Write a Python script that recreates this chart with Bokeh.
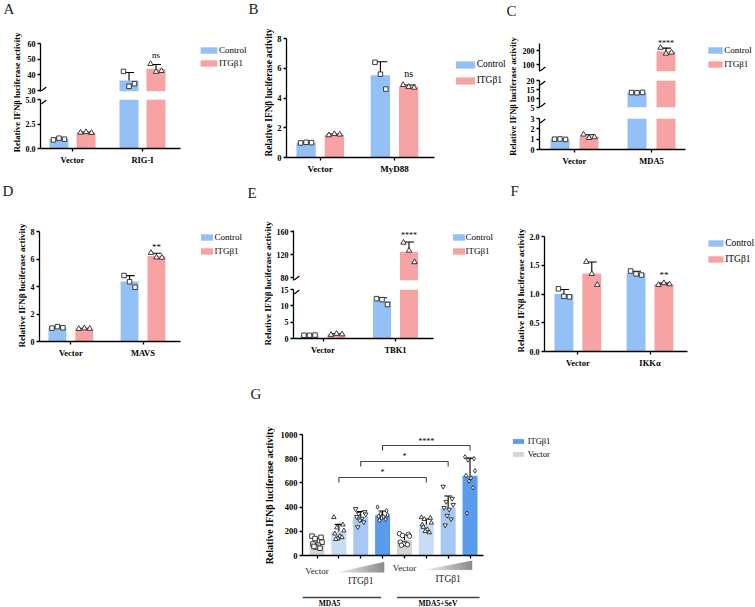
import numpy as np
from math import pi
from bokeh.plotting import figure
from bokeh.models import (ColumnDataSource, Range1d, FixedTicker, Whisker, TeeHead, Legend,
                          LegendItem, Label, NumeralTickFormatter)
from bokeh.layouts import row, column
from bokeh.embed import file_html
from bokeh.resources import INLINE

SERIF = "Liberation Serif"
Y_LABEL = "Relative IFNβ luciferase activity"
GROUPS = ["Control", "ITGβ1"]
CTRL_COLOR = "#93C1F6"
ITG_COLOR = "#F7A3A3"

# ---------------- data ----------------
a_categories = ["Vector", "RIG-I"]
a_control = [[0.88, 1.05, 0.95], [42.2, 32.7, 34.4]]
a_itgb1 = [[1.62, 1.68, 1.60], [47.0, 42.0, 42.5]]
a_sig = "ns"
a_ticks = [[30, 40, 50, 60], [0, 2.5, 5]]

b_categories = ["Vector", "MyD88"]
b_control = [[0.98, 1.02, 1.00], [6.4, 5.6, 4.6]]
b_itgb1 = [[1.50, 1.58, 1.55], [4.88, 4.75, 4.70]]
b_sig = "ns"
b_ticks = [[0, 2, 4, 6, 8]]

c_categories = ["Vector", "MDA5"]
c_control = [[1.00, 1.02, 0.98], [13.3, 13.2, 13.4]]
c_itgb1 = [[1.45, 1.12, 1.20], [220, 178, 186]]
c_sig = "****"
c_ticks = [[100, 200], [5, 10, 15, 20], [0, 1, 2, 3]]

d_categories = ["Vector", "MAVS"]
d_control = [[0.97, 1.08, 1.00], [4.80, 4.35, 3.95]]
d_itgb1 = [[0.92, 0.96, 0.93], [6.45, 6.12, 6.10]]
d_sig = "**"
d_ticks = [[0, 2, 4, 6, 8]]

e_categories = ["Vector", "TBK1"]
e_control = [[1.00, 0.95, 1.05], [12.2, 11.9, 10.4]]
e_itgb1 = [[1.15, 1.45, 1.30], [141, 127, 107]]
e_sig = "****"
e_ticks = [[80, 120, 160], [0, 5, 10, 15]]

f_categories = ["Vector", "IKKα"]
f_control = [[1.09, 0.96, 0.95], [1.40, 1.35, 1.33]]
f_itgb1 = [[1.56, 1.35, 1.16], [1.16, 1.19, 1.17]]
f_sig = "**"
f_ticks = [[0, 0.5, 1.0, 1.5, 2.0]]

g_conditions = ["MDA5", "MDA5+SeV"]
g_values = [
    [160, 150, 140, 110, 95, 85, 70, 60, 75],
    [316, 255, 230, 205, 180, 160, 140, 150, 135],
    [385, 360, 345, 340, 320, 305, 290, 275, 235],
    [400, 370, 345, 335, 325, 320, 310, 300, 290],
    [180, 175, 165, 160, 110, 100, 95, 90, 85],
    [315, 310, 300, 270, 255, 215, 200, 190, 235],
    [570, 470, 445, 420, 395, 380, 330, 300, 250],
    [815, 800, 790, 700, 660, 640, 615, 560, 350],
]
g_ticks = [0, 200, 400, 600, 800, 1000]
g_brackets = [(2, 6, 645, "*"), (3, 7, 777, "*"), (4, 8, 909, "****")]
g_legend = ["ITGβ1", "Vector"]


# ---------------- helpers ----------------
def make_fig(w, h, lb, bt, bb, xr, yr, xaxis=True, yaxis=True):
    p = figure(width=int(w), height=int(h), x_range=xr, y_range=yr, output_backend="svg",
               toolbar_location=None, tools="", min_border=0,
               min_border_left=int(lb), min_border_right=0, min_border_top=int(bt),
               min_border_bottom=int(bb),
               x_axis_type="linear" if xaxis else None,
               y_axis_type="linear" if yaxis else None)
    p.outline_line_color = None
    p.grid.visible = False
    return p


def style_axis(ax, fs, standoff=2):
    ax.major_label_text_font = SERIF
    ax.major_label_text_font_style = "bold"
    ax.major_label_text_font_size = fs
    ax.major_label_text_color = "black"
    ax.major_label_standoff = standoff
    ax.major_tick_out = 3
    ax.major_tick_in = 0
    ax.minor_tick_out = 0
    ax.minor_tick_in = 0
    ax.axis_line_width = 1.3
    ax.major_tick_line_width = 1.3
    ax.axis_line_color = "black"
    ax.major_tick_line_color = "black"


def label_fig(LW, H, letter, lxy, cx, cy, fs):
    p = make_fig(LW, H, 0, 0, 0, Range1d(0, LW), Range1d(H, 0), xaxis=False, yaxis=False)
    p.add_layout(Label(x=lxy[0], y=lxy[1], text=letter, text_font=SERIF, text_font_size="15px",
                       text_baseline="top", text_align="left", text_color="#222222"))
    p.add_layout(Label(x=cx, y=cy, text=Y_LABEL, angle=pi / 2, text_align="center",
                       text_baseline="middle", text_font=SERIF, text_font_style="bold",
                       text_font_size=f"{fs}px", text_color="black"))
    return p


def add_legend(p, items, frame_left, frame_bottom, lg):
    gw = lg["sw_w"] / 0.8
    gh = lg["sw_h"] / 0.8
    row_h = max(int(round(lg["fs"] * 1.25)), int(round(gh)))
    spacing = max(0, int(round(lg["pitch"] - row_h)))
    x1 = lg["sw_left"] - 0.1 * gw
    top = lg["cy1"] - row_h / 2
    n = len(items)
    bottom = top + n * row_h + (n - 1) * spacing
    leg = Legend(items=items, location=(x1 - frame_left, frame_bottom - bottom),
                 glyph_width=int(round(gw)), glyph_height=int(round(gh)), label_height=row_h,
                 label_width=10, label_standoff=int(round(lg["text_x"] - (x1 + gw) - 3.5)),
                 spacing=spacing, padding=0, margin=0, border_line_color=None,
                 background_fill_alpha=0, label_text_font=SERIF,
                 label_text_font_size=f"{lg['fs']}px", label_text_color="black")
    p.add_layout(leg)


JIT = [-5.5, 0.0, 5.5]


def bar_panel(s):
    px0, py0, W, H, LW = s["px0"], s["py0"], s["W"], s["H"], s["LW"]
    lab = label_fig(LW, H, s["letter"], s["lxy"], s["ylab"][0], s["ylab"][1] - py0, s["ylab"][2])
    fw = W - LW
    lb = s["axis_x"] - (px0 + LW)
    frame_w = fw - lb
    sc = s["scale"]
    x0 = 1 - (s["c1"] - s["axis_x"]) / sc
    xr = Range1d(x0, x0 + frame_w / sc)
    bound_end = 1 + (s["axis_end"] - s["c1"]) / sc
    off = s["bar_off"] / sc
    bw = s["bar_w"] / sc
    series = [(s["control"], CTRL_COLOR, -off, "square", 4.5),
              (s["itgb1"], ITG_COLOR, off, "triangle", 5.5)]
    figs = []
    segs = s["segs"]
    nseg = len(segs)
    for k, seg in enumerate(segs):
        ft, fb = seg["fig"]
        rt, rb = seg["frame"]
        lo, hi = seg["rng"]
        ext_top = seg.get("ext", rt)          # frame may reach higher than the axis line
        dy = (hi - lo) / (rb - rt)            # data units per pixel
        hi_ext = hi + (rt - ext_top) * dy
        p = make_fig(fw, fb - ft, lb, ext_top - ft, fb - rb, xr, Range1d(lo, hi_ext),
                     xaxis=(k == nseg - 1))
        ya = p.yaxis[0]
        ya.ticker = FixedTicker(ticks=s["ticks"][k])
        ya.formatter = NumeralTickFormatter(format=seg["fmt"])
        ya.bounds = (lo, hi)
        style_axis(ya, f"{s['tick_fs']}px")
        if k == nseg - 1:
            xa = p.xaxis[0]
            xa.ticker = FixedTicker(ticks=[1, 2])
            xa.major_label_overrides = {1: s["categories"][0], 2: s["categories"][1]}
            xa.bounds = (x0, bound_end)
            style_axis(xa, f"{s['xlab_fs']}px", standoff=3)
        renderers = []
        for gi, (vals, color, dx, marker, msize) in enumerate(series):
            means = [float(np.mean(v)) for v in vals]
            sds = [float(np.std(v, ddof=1)) for v in vals]
            xs = [1 + dx, 2 + dx]
            r = p.vbar(x=xs, top=[max(m, lo) for m in means], bottom=lo, width=bw,
                       fill_color=color, line_color=None)
            renderers.append(r)
            inside = [i for i in range(2) if lo <= means[i] <= hi]
            if inside:
                p.add_layout(Whisker(
                    source=ColumnDataSource(dict(base=[xs[i] for i in inside],
                                                 lower=[means[i] - sds[i] for i in inside],
                                                 upper=[means[i] + sds[i] for i in inside])),
                    base="base", lower="lower", upper="upper", line_color="black", line_width=1.1,
                    upper_head=TeeHead(size=s["cap"], line_color="black", line_width=1.1),
                    lower_head=TeeHead(size=s["cap"], line_color="black", line_width=1.1)))
                px, py = [], []
                for i in inside:
                    for j, v in enumerate(vals[i]):
                        px.append(xs[i] + JIT[j] / sc)
                        py.append(v)
                p.scatter(px, py, marker=marker, size=msize, fill_color="white",
                          line_color="#262626", line_width=0.9)
            if gi == 1 and lo <= means[1] <= hi:
                p.add_layout(Label(x=xs[1], y=means[1] + sds[1], text=s["sig"], text_font=SERIF,
                                   text_font_size=f"{s['sig_fs']}px", text_align="center",
                                   text_baseline="bottom", y_offset=s["sig_off"],
                                   text_color="black"))
        if k == 0:
            add_legend(p, [LegendItem(label=GROUPS[0], renderers=[renderers[0]]),
                           LegendItem(label=GROUPS[1], renderers=[renderers[1]])],
                       s["axis_x"], rb, s["legend"])
        # axis-break slashes beside the cut ends of the axis
        mx0, mx1 = [], []
        my0, my1 = [], []
        if k < nseg - 1:
            mx0.append(x0 + 0.8 / sc); my0.append(lo + 0.5 * dy)
            mx1.append(x0 + 5.8 / sc); my1.append(lo + 4.5 * dy)
        if k > 0:
            mx0.append(x0 + 0.8 / sc); my0.append(hi - 4.5 * dy)
            mx1.append(x0 + 5.8 / sc); my1.append(hi - 0.5 * dy)
        if mx0:
            p.segment(x0=mx0, y0=my0, x1=mx1, y1=my1, line_color="black", line_width=1.2)
        figs.append(p)
    return row(lab, column(*figs))


common = dict(tick_fs=8, xlab_fs=8.5, cap=10, sig_fs=9)

spec_a = dict(common, letter="A", px0=0, py0=0, W=247, H=170, LW=22, lxy=(3, 0.5), ylab=(16, 92, 8.7),
              axis_x=40, c1=72, scale=70, axis_end=180, bar_off=13.5, bar_w=19,
              segs=[dict(fig=(0, 95), frame=(43, 91), rng=(29.4, 60), fmt="0"),
                    dict(fig=(95, 170), frame=(99, 148), rng=(0, 5), fmt="0.0")],
              legend=dict(sw_left=200, cy1=50, pitch=13, sw_w=17, sw_h=6, text_x=219, fs=9),
              sig_off=5, categories=a_categories, control=a_control, itgb1=a_itgb1, sig=a_sig,
              ticks=a_ticks)

spec_b = dict(common, letter="B", px0=247, py0=0, W=259, H=178, LW=27, lxy=(1, 0), ylab=(21, 92, 9.3),
              axis_x=284, c1=318, scale=75, axis_end=433, bar_off=14.25, bar_w=19.5,
              segs=[dict(fig=(0, 178), frame=(38, 157), rng=(0, 8), fmt="0")],
              legend=dict(sw_left=453, cy1=64, pitch=16, sw_w=19, sw_h=7, text_x=473, fs=9.5),
              sig_off=6, categories=b_categories, control=b_control, itgb1=b_itgb1, sig=b_sig,
              ticks=b_ticks)
spec_b.update(cap=14, sig_fs=10, tick_fs=8.5, xlab_fs=9)

spec_c = dict(common, letter="C", px0=506, py0=0, W=249, H=170, LW=13, lxy=(0, 2), ylab=(6.5, 96, 8.6),
              axis_x=539, c1=574, scale=77, axis_end=685, bar_off=14.5, bar_w=19,
              segs=[dict(fig=(0, 75), frame=(43, 71), rng=(50, 250), fmt="0", ext=33),
                    dict(fig=(75, 112), frame=(80, 107), rng=(5, 20), fmt="0"),
                    dict(fig=(112, 170), frame=(118, 149), rng=(0, 3), fmt="0")],
              legend=dict(sw_left=708, cy1=50, pitch=14, sw_w=14, sw_h=6, text_x=727, fs=9),
              sig_off=0, categories=c_categories, control=c_control, itgb1=c_itgb1, sig=c_sig,
              ticks=c_ticks)
spec_c.update(sig_fs=8)

spec_d = dict(common, letter="D", px0=0, py0=170, W=247, H=190, LW=27, lxy=(2, 12), ylab=(21, 285, 9),
              axis_x=38, c1=69.5, scale=72.5, axis_end=180, bar_off=13.5, bar_w=18,
              segs=[dict(fig=(170, 360), frame=(231, 342), rng=(0, 8), fmt="0")],
              legend=dict(sw_left=199, cy1=238.3, pitch=14, sw_w=12, sw_h=6, text_x=217, fs=9),
              sig_off=1, categories=d_categories, control=d_control, itgb1=d_itgb1, sig=d_sig,
              ticks=d_ticks)

spec_e = dict(common, letter="E", px0=247, py0=178, W=259, H=182, LW=26, lxy=(0, 6), ylab=(20, 283, 9),
              axis_x=293, c1=322.5, scale=72.5, axis_end=433, bar_off=13.5, bar_w=18,
              segs=[dict(fig=(178, 284), frame=(230, 280), rng=(75, 162), fmt="0"),
                    dict(fig=(284, 360), frame=(289, 338), rng=(0, 15), fmt="0")],
              legend=dict(sw_left=452, cy1=236.7, pitch=14.3, sw_w=12, sw_h=6, text_x=468, fs=9),
              sig_off=2, categories=e_categories, control=e_control, itgb1=e_itgb1, sig=e_sig,
              ticks=e_ticks)
spec_e.update(sig_fs=8)

spec_f = dict(common, letter="F", px0=506, py0=170, W=249, H=200, LW=20, lxy=(4, 12), ylab=(14, 290, 9),
              axis_x=543, c1=576.5, scale=72.5, axis_end=687, bar_off=14, bar_w=19,
              segs=[dict(fig=(170, 370), frame=(236, 351), rng=(0, 2), fmt="0.0")],
              legend=dict(sw_left=707, cy1=242.7, pitch=15.6, sw_w=15, sw_h=6.5, text_x=725, fs=9.5),
              sig_off=3, categories=f_categories, control=f_control, itgb1=f_itgb1, sig=f_sig,
              ticks=f_ticks)


# ---------------- panel G ----------------
def g_panel():
    px0, py0, W, H, LW = 247, 370, 508, 237, 28
    lab = label_fig(LW, H, "G", (3, 15), 21.5, 495 - py0, 10)
    fw = W - LW
    axis_x = 302
    lb = axis_x - (px0 + LW)
    frame_w = fw - lb
    sc = 21.86
    c1 = 316.5
    x0 = 1 - (c1 - axis_x) / sc
    x1 = x0 + frame_w / sc
    xr = Range1d(x0, x1)
    main = make_fig(fw, 190, lb, 434 - py0, 560 - 555, xr, Range1d(0, 1000))
    ya = main.yaxis[0]
    ya.ticker = FixedTicker(ticks=g_ticks)
    ya.formatter = NumeralTickFormatter(format="0")
    style_axis(ya, "8.5px")
    xa = main.xaxis[0]
    xa.ticker = FixedTicker(ticks=list(range(1, 9)))
    xa.major_label_overrides = {i: "" for i in range(1, 9)}
    xa.bounds = (x0, 1 + (483 - c1) / sc)
    style_axis(xa, "1px", standoff=0)

    colors = {"gray": "#D5D5D5", "light": "#C8DCF6", "mid": "#A6C8F2", "dark": "#5A9BEE"}
    order = ["gray", "light", "mid", "dark", "gray", "light", "mid", "dark"]
    markers = ["square", "triangle", "inverted_triangle", "diamond",
               "circle", "triangle", "inverted_triangle", "diamond"]
    pos = list(range(1, 9))
    means = [float(np.mean(v)) for v in g_values]
    sds = [float(np.std(v, ddof=1)) for v in g_values]
    bw = 15 / sc
    rends = {}
    for key in ["gray", "light", "mid", "dark"]:
        idx = [i for i in range(8) if order[i] == key]
        rends[key] = main.vbar(x=[pos[i] for i in idx], top=[means[i] for i in idx], bottom=0,
                               width=bw, fill_color=colors[key], line_color=None)
    main.add_layout(Whisker(
        source=ColumnDataSource(dict(base=pos, lower=[m - s for m, s in zip(means, sds)],
                                     upper=[m + s for m, s in zip(means, sds)])),
        base="base", lower="lower", upper="upper", line_color="black", line_width=1.1,
        upper_head=TeeHead(size=8, line_color="black", line_width=1.1),
        lower_head=TeeHead(size=8, line_color="black", line_width=1.1)))
    jit = [-5, 4, -2, 5, -4, 1, -1, 3, -3]
    for i, vals in enumerate(g_values):
        main.scatter([pos[i] + jit[j % 9] / sc for j in range(len(vals))], vals,
                     marker=markers[i], size=4.5, fill_color="white", line_color="#262626",
                     line_width=0.9)
    leg_px = 5 / 0.121
    xs, ys = [], []
    for a, b, top, txt in g_brackets:
        xs.append([a, a, b, b])
        ys.append([top - leg_px, top, top, top - leg_px])
        main.add_layout(Label(x=(a + b) / 2, y=top, text=txt, text_font=SERIF, text_font_size="8px",
                              text_align="center", text_baseline="bottom", y_offset=0,
                              text_color="black"))
    main.multi_line(xs, ys, line_color="#444444", line_width=1.1)
    add_legend(main, [LegendItem(label=g_legend[0], renderers=[rends["dark"]]),
                      LegendItem(label=g_legend[1], renderers=[rends["gray"]])],
               axis_x, 555, dict(sw_left=512, cy1=440.7, pitch=12.6, sw_w=11, sw_h=5,
                                 text_x=531, fs=8.5))

    # lower annotation strip, sharing the bar positions (x range) of the main plot
    low = make_fig(fw, 47, lb, 0, 0, xr, Range1d(47, 0), xaxis=False, yaxis=False)
    for xb, yb in [(1, 10), (5, 7.3)]:
        low.add_layout(Label(x=xb, y=yb, text="Vector", text_font=SERIF, text_font_size="9px",
                             text_align="center", text_baseline="middle", text_color="#222222"))
    for xb, yb in [(3, 20.7), (7, 18.3)]:
        low.add_layout(Label(x=xb, y=yb, text="ITGβ1", text_font=SERIF, text_font_size="9.5px",
                             text_align="center", text_baseline="middle", text_color="#222222"))
    n = 24
    for xa_, xb_, yb, yt in [(2, 4 + 1.5 / sc, 11.7, 1.7), (6, 8 + 2 / sc, 9.3, 0.3)]:
        wx, wy, wc = [], [], []
        for i in range(n):
            t0, t1 = i / n, (i + 1) / n
            xl = xa_ + (xb_ - xa_) * t0
            xr_ = xa_ + (xb_ - xa_) * t1
            h0 = yb + (yt - yb) * t0
            h1 = yb + (yt - yb) * t1
            wx.append([xl, xr_, xr_, xl])
            wy.append([yb, yb, h1, h0])
            g = int(238 - (238 - 135) * (t0 + t1) / 2)
            wc.append(f"#{g:02x}{g:02x}{g:02x}")
        low.patches(wx, wy, fill_color=wc, line_color=wc, line_width=0.4)
    low.segment(x0=[x0, 5 - 7.5 / sc], y0=[37, 37], x1=[4 - 1.5 / sc, 8 + 9.5 / sc],
                y1=[37, 37], line_color="#444444", line_width=1.6)
    for xc, txt in [(1 + 12.5 / sc, g_conditions[0]), (5 + 33.5 / sc, g_conditions[1])]:
        low.add_layout(Label(x=xc, y=43, text=txt, text_font=SERIF, text_font_size="7.5px",
                             text_font_style="bold", text_align="center", text_baseline="middle",
                             text_color="black"))
    return row(lab, column(main, low))


panel_a = bar_panel(spec_a)
panel_b = bar_panel(spec_b)
panel_c = bar_panel(spec_c)
panel_d = bar_panel(spec_d)
panel_e = bar_panel(spec_e)
panel_f = bar_panel(spec_f)
panel_g = g_panel()

col1 = column(panel_a, panel_d)
col2 = column(panel_b, panel_e)
col3 = column(panel_c, panel_f)
root = row(col1, column(row(col2, col3), panel_g))

open("out.html", "w", encoding="utf-8").write(file_html(root, INLINE, title="IFNb luciferase"))
